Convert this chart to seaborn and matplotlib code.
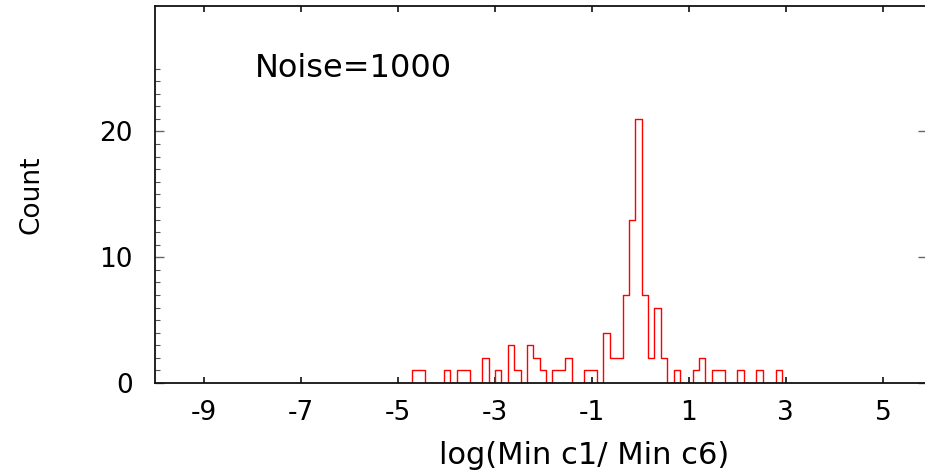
import numpy as np
import pandas as pd
import matplotlib
matplotlib.use("Agg")
import matplotlib.pyplot as plt
from matplotlib.ticker import FixedLocator
import seaborn as sns

# histogram: 58 bins starting at bin_lo
bin_lo = -4.70
bin_w = 0.1314
counts = [1, 1, 0, 0, 0, 1, 0, 1, 1, 0,
          0, 2, 0, 1, 0, 3, 1, 0, 3, 2,
          1, 0, 1, 1, 2, 0, 0, 1, 1, 0,
          4, 2, 2, 7, 13, 21, 7, 2, 6, 2,
          0, 1, 0, 0, 1, 2, 0, 1, 1, 0,
          0, 1, 0, 0, 1, 0, 0, 1]
x_ticks = [-9, -7, -5, -3, -1, 1, 3, 5]
y_ticks = [0, 10, 20]
note = "Noise=1000"

sns.set_style("ticks")
plt.rcParams['font.family'] = ['DejaVu Sans']
plt.rcParams['axes.unicode_minus'] = False
plt.rcParams['text.color'] = 'black'
plt.rcParams['axes.labelcolor'] = 'black'
plt.rcParams['xtick.labelcolor'] = 'black'
plt.rcParams['ytick.labelcolor'] = 'black'

# pad with an empty bin on each side so the step outline drops to zero at the ends
n_bins = len(counts) + 2
lo = bin_lo - bin_w
hi = lo + n_bins * bin_w
df = pd.DataFrame({
    "x": lo + bin_w * (np.arange(n_bins) + 0.5),
    "w": [0] + counts + [0],
})

fig = plt.figure(figsize=(9.25, 4.73), dpi=100)
ax = fig.add_axes([155 / 925, 90 / 473, 771.5 / 925, 377.3 / 473])

sns.histplot(data=df, x="x", weights="w", bins=n_bins, binrange=(lo, hi),
             element="step", fill=False, color="red", linewidth=1.0, ax=ax)

ax.set_xlim(-10, 5.9)
ax.set_ylim(0, 30)
ax.set_xticks(x_ticks)
ax.set_xticklabels([str(v) for v in x_ticks])
ax.set_yticks(y_ticks)
ax.yaxis.set_minor_locator(FixedLocator([v for v in range(1, 26) if v % 10 != 0]))

for side in ["left", "bottom", "top"]:
    ax.spines[side].set_color("#111111")
    ax.spines[side].set_linewidth(1.3)
ax.spines["right"].set_visible(False)

ax.tick_params(axis="x", which="major", direction="in", length=4, width=1.2,
               color="#111111", top=True, labelsize=19, pad=12)
ax.tick_params(axis="y", which="major", direction="in", length=6.5, width=1.0,
               color="#666666", right=True, labelsize=19, pad=16)
ax.tick_params(axis="y", which="minor", direction="in", length=3.5, width=0.8,
               color="#555555", right=False)

ax.set_xlabel("log(Min c1/ Min c6)", fontsize=22)
ax.xaxis.set_label_coords(0.556, -0.155)
ax.set_ylabel("Count", fontsize=19)
ax.yaxis.set_label_coords(-0.143, 0.498)

ax.text(-7.95, 25.0, note, fontsize=23, ha="left", va="center")

fig.savefig("out.png", dpi=100)
